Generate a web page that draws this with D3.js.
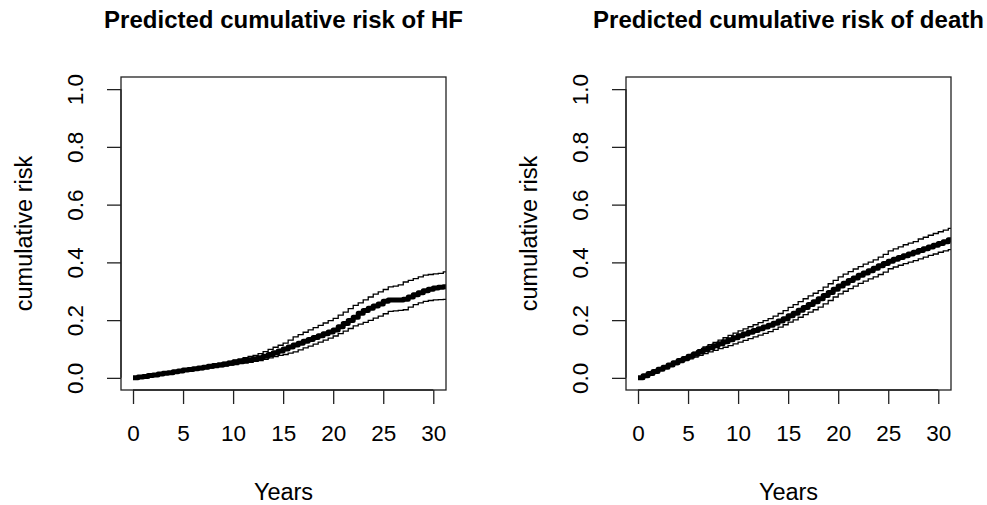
<!DOCTYPE html>
<html>
<head>
<meta charset="utf-8">
<script src="https://cdn.jsdelivr.net/npm/d3@7"></script>
<style>
  html, body { margin: 0; padding: 0; background: #fff; }
  svg { display: block; font-family: "Liberation Sans", Arial, sans-serif; }
</style>
</head>
<body>
<svg id="chart" width="987" height="505"></svg>
<script>
// Follow-up time grid (years)
const years = [0, 0.5, 1, 1.5, 2, 2.5, 3, 3.5, 4, 4.5, 5, 5.5, 6, 6.5, 7, 7.5, 8, 8.5, 9, 9.5,
  10, 10.5, 11, 11.5, 12, 12.5, 13, 13.5, 14, 14.5, 15, 15.5, 16, 16.5, 17, 17.5, 18, 18.5, 19, 19.5,
  20, 20.5, 21, 21.5, 22, 22.5, 23, 23.5, 24, 24.5, 25, 25.5, 26, 26.5, 27, 27.5, 28, 28.5, 29, 29.5,
  30, 30.5, 31];

// Heart failure: estimate and 95% limits
const hfRisk = [0.000, 0.003, 0.005, 0.008, 0.010, 0.013, 0.016, 0.018, 0.021, 0.024, 0.027, 0.029, 0.032, 0.034, 0.037, 0.040, 0.043, 0.045, 0.048, 0.051,
  0.054, 0.057, 0.060, 0.063, 0.066, 0.070, 0.075, 0.081, 0.087, 0.093, 0.100, 0.107, 0.114, 0.120, 0.127, 0.133, 0.140, 0.146, 0.153, 0.159,
  0.166, 0.177, 0.188, 0.199, 0.210, 0.224, 0.233, 0.241, 0.249, 0.256, 0.265, 0.270, 0.270, 0.270, 0.272, 0.280, 0.288, 0.295, 0.302, 0.307,
  0.311, 0.314, 0.316];
const hfUpper = [0.000, 0.004, 0.006, 0.009, 0.012, 0.015, 0.018, 0.020, 0.023, 0.026, 0.029, 0.032, 0.035, 0.038, 0.041, 0.044, 0.048, 0.051, 0.054, 0.058,
  0.062, 0.066, 0.070, 0.074, 0.078, 0.084, 0.091, 0.099, 0.106, 0.113, 0.120, 0.131, 0.142, 0.150, 0.158, 0.166, 0.174, 0.182, 0.190, 0.198,
  0.206, 0.217, 0.228, 0.240, 0.251, 0.260, 0.270, 0.280, 0.290, 0.298, 0.306, 0.315, 0.318, 0.322, 0.332, 0.338, 0.344, 0.350, 0.356, 0.358,
  0.360, 0.362, 0.367];
const hfLower = [0.000, 0.002, 0.004, 0.006, 0.008, 0.011, 0.013, 0.015, 0.018, 0.020, 0.023, 0.025, 0.027, 0.029, 0.032, 0.034, 0.036, 0.039, 0.041, 0.044,
  0.046, 0.049, 0.051, 0.054, 0.057, 0.060, 0.064, 0.069, 0.074, 0.078, 0.081, 0.086, 0.090, 0.097, 0.104, 0.110, 0.117, 0.124, 0.131, 0.138,
  0.145, 0.153, 0.162, 0.171, 0.180, 0.186, 0.192, 0.199, 0.207, 0.214, 0.222, 0.230, 0.232, 0.234, 0.236, 0.245, 0.254, 0.260, 0.265, 0.268,
  0.270, 0.271, 0.272];

// Death: estimate and 95% limits
const deathRisk = [0.000, 0.007, 0.015, 0.022, 0.030, 0.037, 0.045, 0.052, 0.060, 0.067, 0.075, 0.082, 0.090, 0.097, 0.104, 0.111, 0.118, 0.125, 0.132, 0.139,
  0.146, 0.152, 0.158, 0.164, 0.170, 0.176, 0.182, 0.189, 0.197, 0.205, 0.215, 0.224, 0.234, 0.244, 0.254, 0.264, 0.274, 0.285, 0.296, 0.307,
  0.318, 0.328, 0.337, 0.346, 0.355, 0.363, 0.371, 0.380, 0.388, 0.396, 0.404, 0.411, 0.417, 0.423, 0.429, 0.435, 0.441, 0.447, 0.453, 0.459,
  0.465, 0.471, 0.478];
const deathUpper = [0.000, 0.008, 0.016, 0.024, 0.032, 0.040, 0.048, 0.056, 0.064, 0.072, 0.080, 0.089, 0.098, 0.107, 0.115, 0.123, 0.131, 0.139, 0.147, 0.155,
  0.163, 0.170, 0.177, 0.184, 0.191, 0.198, 0.205, 0.214, 0.223, 0.233, 0.244, 0.254, 0.264, 0.274, 0.284, 0.293, 0.302, 0.314, 0.326, 0.338,
  0.350, 0.359, 0.368, 0.377, 0.385, 0.394, 0.401, 0.409, 0.418, 0.428, 0.440, 0.447, 0.454, 0.461, 0.467, 0.472, 0.481, 0.487, 0.494, 0.500,
  0.506, 0.512, 0.518];
const deathLower = [0.000, 0.006, 0.013, 0.020, 0.027, 0.033, 0.040, 0.046, 0.053, 0.060, 0.066, 0.072, 0.078, 0.084, 0.090, 0.095, 0.101, 0.106, 0.112, 0.118,
  0.124, 0.130, 0.136, 0.142, 0.148, 0.154, 0.160, 0.168, 0.176, 0.184, 0.193, 0.201, 0.210, 0.219, 0.228, 0.236, 0.245, 0.256, 0.268, 0.280,
  0.291, 0.300, 0.309, 0.318, 0.327, 0.335, 0.343, 0.350, 0.358, 0.366, 0.378, 0.384, 0.390, 0.396, 0.401, 0.406, 0.412, 0.418, 0.424, 0.429,
  0.435, 0.440, 0.444];

const xTicks = [0, 5, 10, 15, 20, 25, 30];
const yTicks = [0.0, 0.2, 0.4, 0.6, 0.8, 1.0];

const panels = [
  { title: "Predicted cumulative risk of HF", left: 121, est: hfRisk, lo: hfLower, hi: hfUpper },
  { title: "Predicted cumulative risk of death", left: 626, est: deathRisk, lo: deathLower, hi: deathUpper }
];

const svg = d3.select("#chart");
const boxW = 325, boxTop = 77, boxBottom = 390;
const tickSize = 22.5, labelSize = 23.5, titleSize = 24;

panels.forEach((p, i) => {
  const x = d3.scaleLinear().domain([-1.2, 31.27]).range([p.left, p.left + boxW]);
  const y = d3.scaleLinear().domain([-0.042, 1.042]).range([boxBottom, boxTop]);
  const g = svg.append("g");

  const clipId = "clip" + i;
  svg.append("clipPath").attr("id", clipId).append("rect")
    .attr("x", p.left).attr("y", boxTop).attr("width", boxW).attr("height", boxBottom - boxTop);

  const xEnd = x.domain()[1];
  const line = d3.line().x(d => x(d[0])).y(d => y(d[1])).curve(d3.curveStepAfter);
  const pts = arr => {
    const a = years.map((t, k) => [t, arr[k]]);
    a.push([xEnd, arr[arr.length - 1]]);
    return a;
  };

  const curves = g.append("g").attr("clip-path", `url(#${clipId})`);
  [p.lo, p.hi].forEach(arr => {
    curves.append("path").attr("d", line(pts(arr)))
      .attr("fill", "none").attr("stroke", "#000").attr("stroke-width", 1.3);
  });
  curves.append("path").attr("d", line(pts(p.est)))
    .attr("fill", "none").attr("stroke", "#000").attr("stroke-width", 5)
    .attr("stroke-linejoin", "round");

  // plot frame
  g.append("rect").attr("x", p.left).attr("y", boxTop)
    .attr("width", boxW).attr("height", boxBottom - boxTop)
    .attr("fill", "none").attr("stroke", "#222").attr("stroke-width", 1.3);

  // x axis
  const xAxis = d3.axisBottom(x).tickValues(xTicks).tickSize(14).tickPadding(21)
    .tickFormat(d3.format("d"));
  const gx = g.append("g").attr("transform", `translate(0,${boxBottom})`).call(xAxis);
  gx.select(".domain").attr("d", `M${x(0)},0H${x(30)}`).attr("stroke", "#222").attr("stroke-width", 1.3);
  gx.selectAll(".tick line").attr("stroke", "#222").attr("stroke-width", 1.3);
  gx.selectAll(".tick text").attr("font-size", tickSize).attr("fill", "#000")
    .attr("font-family", "Liberation Sans, Arial, sans-serif");

  // y axis, labels drawn parallel to the axis
  const yAxis = d3.axisLeft(y).tickValues(yTicks).tickSize(14).tickFormat(d3.format(".1f"));
  const gy = g.append("g").attr("transform", `translate(${p.left},0)`).call(yAxis);
  gy.select(".domain").attr("d", `M0,${y(0)}V${y(1)}`).attr("stroke", "#222").attr("stroke-width", 1.3);
  gy.selectAll(".tick line").attr("stroke", "#222").attr("stroke-width", 1.3);
  gy.selectAll(".tick text")
    .attr("x", null).attr("dy", null)
    .attr("transform", "translate(-38,0) rotate(-90)")
    .attr("text-anchor", "middle")
    .attr("font-size", tickSize).attr("fill", "#000")
    .attr("font-family", "Liberation Sans, Arial, sans-serif");

  // axis titles
  g.append("text").attr("x", p.left + boxW / 2).attr("y", 500)
    .attr("text-anchor", "middle").attr("font-size", labelSize).text("Years");
  g.append("text")
    .attr("transform", `translate(${p.left - 89},${(boxTop + boxBottom) / 2}) rotate(-90)`)
    .attr("text-anchor", "middle").attr("font-size", labelSize).text("cumulative risk");

  // panel title
  g.append("text").attr("x", p.left + boxW / 2).attr("y", 28)
    .attr("text-anchor", "middle").attr("font-size", titleSize).attr("font-weight", "bold")
    .text(p.title);
});
</script>
</body>
</html>
